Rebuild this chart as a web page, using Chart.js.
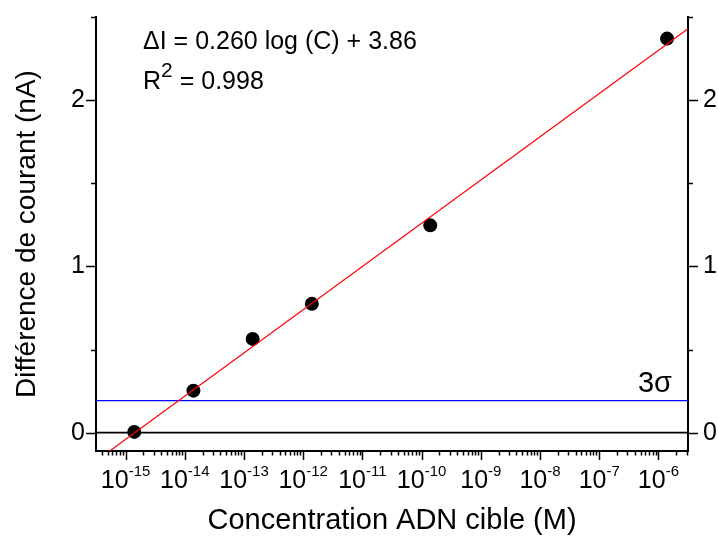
<!DOCTYPE html>
<html><head><meta charset="utf-8">
<script src="https://cdn.jsdelivr.net/npm/chart.js@4/dist/chart.umd.min.js"></script>
<style>html,body{margin:0;padding:0;background:#fff}#wrap{width:718px;height:539px;position:relative}</style>
</head><body><div id="wrap"><canvas id="c"></canvas></div>
<script>
// ---- data ----
const concentrations = [1.4e-15, 1.4e-14, 1.4e-13, 1.4e-12, 1.4e-10, 1.4e-6];   // M
const currentDiff    = [0.005, 0.253, 0.564, 0.775, 1.247, 2.370];               // nA
const fitLineX = [3.1623e-16, 3.1623e-6];   // ΔI = 0.260 log(C) + 3.86, end points
const fitLineY = [-0.17, 2.43];
const thresholdX = [3.1623e-16, 3.1623e-6];
const thresholdY = [0.193, 0.193];            // 3σ
const zeroLineY = [0, 0];
const xRange = [3.1623e-16, 3.1623e-6];
const yRange = [-0.11, 2.5];
const xMajorExponents = [-15, -14, -13, -12, -11, -10, -9, -8, -7, -6];
const xMinorMantissas = [2, 3, 4, 5, 6, 7, 8, 9];
const xMinorExponents = [-16, -15, -14, -13, -12, -11, -10, -9, -8, -7, -6];
const yTickValues = [0, 0.5, 1, 1.5, 2, 2.5];
const yTickLabels = ['0', '', '1', '', '2', ''];
const equationText = 'ΔI = 0.260 log (C) + 3.86';
const r2Text = ['R', '2', ' = 0.998'];
const sigmaLabel = '3σ';
const xTitle = 'Concentration ADN cible (M)';
const yTitle = 'Différence de courant (nA)';

const FONT = "'Liberation Sans', Arial, Helvetica, sans-serif";

const xMajorValues = xMajorExponents.map(e => Math.pow(10, e));
const xMinorValues = [];
xMinorExponents.forEach(e => xMinorMantissas.forEach(m => {
  const v = m * Math.pow(10, e);
  if (v > xRange[0] && v < xRange[1]) xMinorValues.push(v);
}));

const decorPlugin = {
  id: 'decor',
  afterDraw(chart) {
    const ctx = chart.ctx;
    const xs = chart.scales.x, ys = chart.scales.y;
    const a = chart.chartArea;
    ctx.save();
    ctx.strokeStyle = '#000';
    ctx.lineWidth = 1.5;
    ctx.beginPath();
    xMajorValues.forEach(v => {
      const px = Math.round(xs.getPixelForValue(v)) + 0.5;
      ctx.moveTo(px, a.bottom); ctx.lineTo(px, a.bottom + 9);
    });
    xMinorValues.forEach(v => {
      const px = Math.round(xs.getPixelForValue(v)) + 0.5;
      ctx.moveTo(px, a.bottom); ctx.lineTo(px, a.bottom + 4.5);
    });
    yTickValues.forEach((v, i) => {
      const py = Math.round(ys.getPixelForValue(v)) + 0.5;
      const len = yTickLabels[i] !== '' ? 10 : 5;
      ctx.moveTo(a.left, py); ctx.lineTo(a.left - len, py);
      ctx.moveTo(a.right, py); ctx.lineTo(a.right + len, py);
    });
    ctx.stroke();
    ctx.fillStyle = '#000';
    ctx.textBaseline = 'alphabetic';
    ctx.textAlign = 'left';
    xMajorExponents.forEach((e, i) => {
      const px = xs.getPixelForValue(xMajorValues[i]);
      ctx.font = '25px ' + FONT;
      const wb = ctx.measureText('10').width;
      ctx.font = '15px ' + FONT;
      const we = ctx.measureText(String(e)).width;
      const x0 = px - (wb + we) / 2;
      ctx.font = '25px ' + FONT;
      ctx.fillText('10', x0, a.bottom + 37);
      ctx.font = '15px ' + FONT;
      ctx.fillText(String(e), x0 + wb, a.bottom + 25);
    });
    ctx.font = '25px ' + FONT;
    ctx.fillText(equationText, 143, 49);
    let x = 143;
    ctx.fillText(r2Text[0], x, 89); x += ctx.measureText(r2Text[0]).width;
    ctx.font = '21px ' + FONT;
    ctx.fillText(r2Text[1], x, 77); x += ctx.measureText(r2Text[1]).width;
    ctx.font = '25px ' + FONT;
    ctx.fillText(r2Text[2], x, 89);
    ctx.font = '29px ' + FONT;
    ctx.textAlign = 'right';
    ctx.fillText(sigmaLabel, 672, 392);
    ctx.restore();
  }
};

function noPad(s) { s.paddingTop = 0; s.paddingBottom = 0; s.paddingLeft = 0; s.paddingRight = 0; }

new Chart(document.getElementById('c'), {
  type: 'scatter',
  data: {
    datasets: [
      {
        data: concentrations.map((c, i) => ({ x: c, y: currentDiff[i] })),
        backgroundColor: '#000', borderColor: '#000', borderWidth: 0,
        pointRadius: 7, order: 3
      },
      {
        data: thresholdX.map((c, i) => ({ x: c, y: thresholdY[i] })),
        showLine: true, borderColor: 'rgb(0,0,255)', borderWidth: 1.3,
        pointRadius: 0, clip: 0, order: 2
      },
      {
        data: xRange.map((c, i) => ({ x: c, y: zeroLineY[i] })),
        showLine: true, borderColor: '#000', borderWidth: 1.8,
        pointRadius: 0, clip: 0, order: 4
      },
      {
        data: fitLineX.map((c, i) => ({ x: c, y: fitLineY[i] })),
        showLine: true, borderColor: 'rgb(255,0,0)', borderWidth: 1.2,
        pointRadius: 0, clip: 0, order: 1
      }
    ]
  },
  options: {
    responsive: true, maintainAspectRatio: false, animation: false,
    events: [],
    layout: { padding: { top: 17, left: 0, right: 0, bottom: 0 } },
    plugins: { legend: { display: false }, tooltip: { enabled: false } },
    scales: {
      x: {
        type: 'logarithmic', min: xRange[0], max: xRange[1],
        grid: { display: false, drawTicks: false },
        border: { display: true, color: '#000', width: 2 },
        ticks: { display: false },
        title: { display: true, text: xTitle, color: '#000',
                 font: { family: FONT, size: 29 }, padding: { top: 0, bottom: 1 } },
        afterFit(s) { s.height = 88; noPad(s); }
      },
      y: {
        type: 'linear', position: 'left', min: yRange[0], max: yRange[1],
        afterBuildTicks(s) { s.ticks = yTickValues.map(v => ({ value: v })); },
        grid: { display: false, drawTicks: false },
        border: { display: true, color: '#000', width: 2 },
        ticks: { color: '#000', font: { family: FONT, size: 25 }, padding: 11,
                 callback(v) { const i = yTickValues.indexOf(v); return i >= 0 && yTickLabels[i] !== '' ? yTickLabels[i] : null; } },
        title: { display: true, text: yTitle, color: '#000',
                 font: { family: FONT, size: 28 }, padding: { top: 10, bottom: 0 } },
        afterFit(s) { s.width = 96; noPad(s); }
      },
      y2: {
        type: 'linear', position: 'right', min: yRange[0], max: yRange[1],
        afterBuildTicks(s) { s.ticks = yTickValues.map(v => ({ value: v })); },
        grid: { display: false, drawTicks: false },
        border: { display: true, color: '#000', width: 2 },
        ticks: { color: '#000', font: { family: FONT, size: 25 }, padding: 15,
                 callback(v) { const i = yTickValues.indexOf(v); return i >= 0 && yTickLabels[i] !== '' ? yTickLabels[i] : null; } },
        afterFit(s) { s.width = 30; noPad(s); }
      }
    }
  },
  plugins: [decorPlugin]
});
</script>
</body></html>
